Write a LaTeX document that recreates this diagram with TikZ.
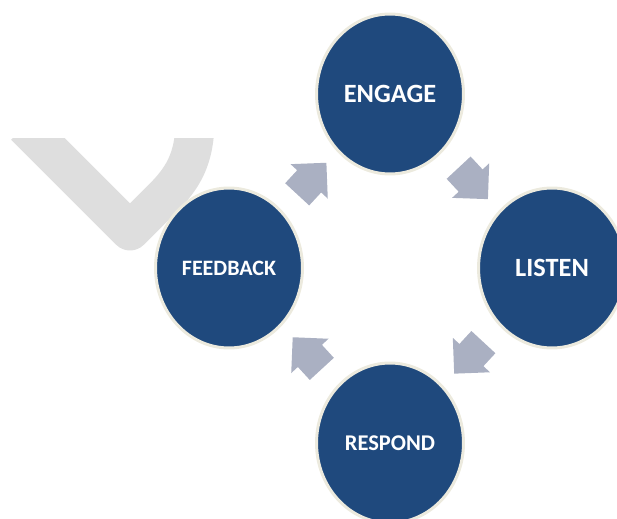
\documentclass[tikz,border=0pt]{standalone}
\usepackage{fontspec}
\setmainfont{Carlito}
\usetikzlibrary{shapes.geometric}
\usetikzlibrary{shapes.arrows}
\definecolor{stageblue}{RGB}{31,73,125}
\definecolor{stagerim}{RGB}{236,234,222}
\definecolor{flowgray}{RGB}{170,176,194}
\definecolor{markgray}{RGB}{222,222,222}

\begin{document}
\begin{tikzpicture}[x=0.02cm, y=-0.02cm,
		stage/.style={ellipse, draw=stagerim, line width=1.7pt, fill=stageblue, text=white, minimum width=2.94cm, minimum height=3.2cm, inner sep=0pt},
		flow/.style={single arrow, fill=flowgray, minimum height=0.86cm, inner xsep=0pt, inner ysep=0.32cm, single arrow head extend=0.18cm, single arrow tip angle=90}]
				\clip (0,0) rectangle (617,519);
				
				% faded check mark behind the cycle
				\begin{scope}
					\clip (0,139) rectangle (617,519);
					\draw[markgray, line width=0.78cm, line join=round] (25,126) -- (130,231) -- (162,199) .. controls (182,179) and (195,160) .. (195,120);
				\end{scope}
				
				\node[stage, font=\bfseries\fontsize{15}{18}\selectfont] (E) at (390,94) {ENGAGE};
				\node[stage, font=\bfseries\fontsize{15}{18}\selectfont] (L) at (552,268) {LISTEN};
				\node[stage, font=\bfseries\fontsize{12.8}{15}\selectfont] (R) at (390,443) {RESPOND};
				\node[stage, font=\bfseries\fontsize{12.5}{15}\selectfont] (F) at (229,268) {FEEDBACK};
				
				\path (F) -- (E) node[flow, pos=0.44, sloped, allow upside down] (FE) {};
				\path (E) -- (L) node[flow, pos=0.44, sloped, allow upside down] (EL) {};
				\path (L) -- (R) node[flow, pos=0.44, sloped, allow upside down] (LR) {};
				\path (R) -- (F) node[flow, pos=0.44, sloped, allow upside down] (RF) {};
			\end{tikzpicture}
\end{document}
